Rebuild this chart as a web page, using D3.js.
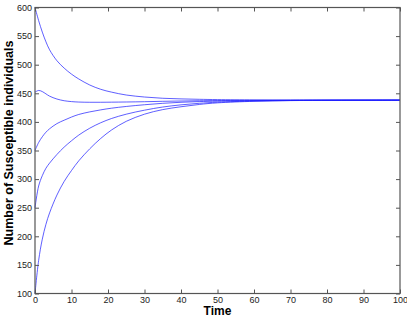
<!DOCTYPE html>
<html lang="en">
<head>
<meta charset="UTF-8">
<title>Susceptible individuals</title>
<script src="https://cdn.jsdelivr.net/npm/d3@7"></script>
<style>
  body { margin: 0; background: #fff; }
  .tick text { font-family: "Liberation Sans", Arial, sans-serif; font-size: 9px; fill: #222; }
  .axis-title { font-family: "Liberation Sans", Arial, sans-serif; font-weight: bold; fill: #000; }
</style>
</head>
<body>
<svg width="407" height="320"></svg>
<script>
const times = [0, 1, 2, 3, 4, 6, 8, 10, 12, 15, 18, 21, 25, 30, 35, 40, 45, 50, 60, 70, 80, 100];

// one series per initial condition
const s600 = [600, 577, 557, 540, 526, 507, 494, 483.5, 475, 464.5, 457, 452, 447, 443.5, 441.3, 440.2, 439.5, 439, 438.5, 438.2, 438, 438];
const s452 = [452, 455, 453, 449, 445, 440, 437, 435.5, 434.7, 434.3, 434.3, 434.5, 434.8, 435.3, 436, 436.5, 437, 437.3, 437.7, 438, 438, 438];
const s350 = [350, 364, 374, 382, 388, 397, 403, 408.5, 413, 417.5, 421, 424, 427, 430, 432.5, 434.3, 435.5, 436.3, 437.2, 437.6, 437.9, 438];
const s250 = [250, 288, 306, 319, 328, 343, 356, 367, 377, 389, 398.5, 406, 413.5, 420.5, 426, 429.8, 432.5, 434.5, 436.5, 437.4, 437.8, 438];
const s100 = [100, 158, 195, 221, 241, 272, 296, 315, 332, 353, 371, 386, 401, 413.5, 421.5, 426.5, 430.5, 433.3, 436, 437.2, 437.7, 438];
const allSeries = [s600, s452, s350, s250, s100];

const xTicks = d3.range(0, 101, 10);
const yTicks = d3.range(100, 601, 50);

const svg = d3.select("svg");
const mLeft = 35, mRight = 400, mTop = 7.5, mBottom = 293.5;

const x = d3.scaleLinear().domain([0, 100]).range([mLeft, mRight]);
const y = d3.scaleLinear().domain([100, 600]).range([mBottom, mTop]);

// curves
const line = d3.line()
    .x((d, i) => x(times[i]))
    .y(d => y(d))
    .curve(d3.curveCatmullRom.alpha(0.5));

svg.append("g")
    .selectAll("path")
    .data(allSeries)
    .enter()
    .append("path")
    .attr("d", line)
    .attr("fill", "none")
    .attr("stroke", "#1a1aff")
    .attr("stroke-width", 0.7);

// axes, ticks pointing inwards like matlab
const axisColor = "#555";
function styleAxis(g) {
    g.select(".domain").remove();
    g.selectAll(".tick line").attr("stroke", axisColor);
}

svg.append("g")
    .attr("transform", `translate(0,${mBottom})`)
    .call(d3.axisBottom(x).tickValues(xTicks).tickSizeInner(-4).tickSizeOuter(0).tickPadding(3))
    .call(styleAxis);

svg.append("g")
    .attr("transform", `translate(0,${mTop})`)
    .call(d3.axisTop(x).tickValues(xTicks).tickSizeInner(-4).tickSizeOuter(0).tickFormat(""))
    .call(styleAxis);

svg.append("g")
    .attr("transform", `translate(${mLeft},0)`)
    .call(d3.axisLeft(y).tickValues(yTicks).tickSizeInner(-4).tickSizeOuter(0).tickPadding(3))
    .call(styleAxis);

svg.append("g")
    .attr("transform", `translate(${mRight},0)`)
    .call(d3.axisRight(y).tickValues(yTicks).tickSizeInner(-4).tickSizeOuter(0).tickFormat(""))
    .call(styleAxis);

// box
svg.append("rect")
    .attr("x", mLeft)
    .attr("y", mTop)
    .attr("width", mRight - mLeft)
    .attr("height", mBottom - mTop)
    .attr("fill", "none")
    .attr("stroke", axisColor)
    .attr("stroke-width", 1.2);

// titles
svg.append("text")
    .attr("class", "axis-title")
    .attr("x", (mLeft + mRight) / 2)
    .attr("y", 315)
    .attr("text-anchor", "middle")
    .style("font-size", "12px")
    .text("Time");

svg.append("text")
    .attr("class", "axis-title")
    .attr("transform", "translate(13,143) rotate(-90)")
    .attr("text-anchor", "middle")
    .style("font-size", "12.5px")
    .text("Number of Susceptible individuals");
</script>
</body>
</html>
